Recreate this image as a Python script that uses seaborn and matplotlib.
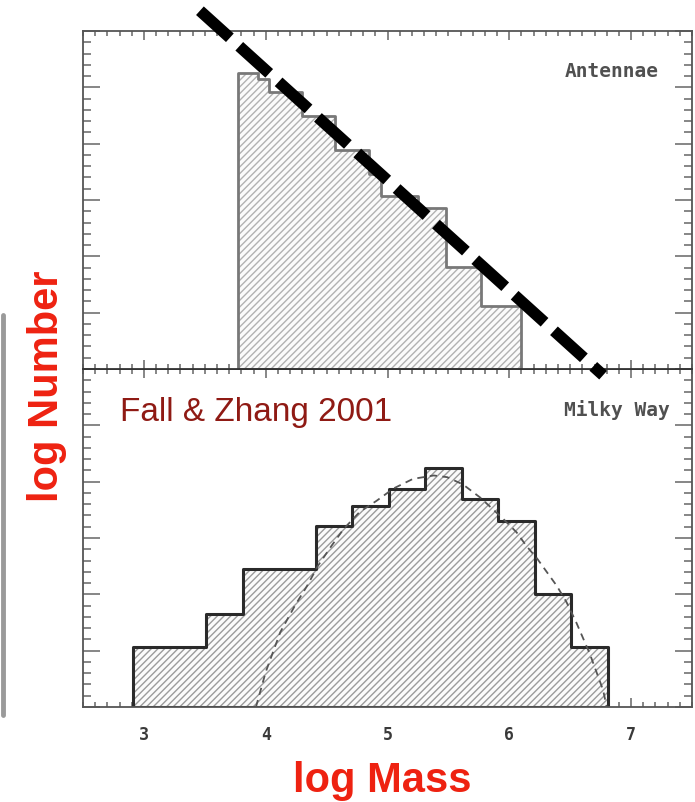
import numpy as np
import pandas as pd
import matplotlib
matplotlib.use("Agg")
import matplotlib.pyplot as plt
from matplotlib.lines import Line2D
from matplotlib.ticker import MultipleLocator, NullFormatter
import seaborn as sns

# Antennae young clusters: log number per bin (arbitrary zero point)
antennae_edges = [3.77, 3.94, 4.03, 4.30, 4.57, 4.85, 4.95, 5.25, 5.48, 5.77, 6.10]
antennae_heights = [5.25, 5.15, 4.92, 4.49, 3.89, 3.46, 3.07, 2.86, 1.81, 1.12]

# Milky Way globular clusters
milkyway_edges = [2.91, 3.21, 3.51, 3.81, 4.11, 4.41, 4.71, 5.01, 5.31,
                  5.61, 5.91, 6.21, 6.51, 6.81]
milkyway_heights = [1.06, 1.06, 1.65, 2.45, 2.45, 3.22, 3.57, 3.87, 4.24,
                    3.70, 3.31, 2.00, 1.06]

# Evolved mass-function model for the Milky Way sample
model_logm = [3.92, 4.00, 4.12, 4.24, 4.34, 4.43, 4.54, 4.64, 4.77, 4.91,
              5.05, 5.21, 5.38, 5.49, 5.62, 5.76, 5.95, 6.06, 6.14, 6.23,
              6.31, 6.39, 6.47, 6.55, 6.66, 6.77, 6.80]
model_logn = [0.00, 0.62, 1.33, 1.80, 2.15, 2.51, 2.86, 3.16, 3.46, 3.66,
              3.88, 4.05, 4.11, 4.08, 3.95, 3.72, 3.34, 3.10, 2.86, 2.63,
              2.39, 2.15, 1.86, 1.50, 0.95, 0.30, 0.00]

# Power-law guide drawn over the Antennae panel
powerlaw_logm = [3.46, 6.77]
powerlaw_logn = [6.36, -0.11]

xtick_values = [3, 4, 5, 6, 7]
xtick_labels = ["3", "4", "5", "6", "7"]

panel_names = ["Antennae", "Milky Way"]
citation = "Fall & Zhang 2001"
xlabel = "log Mass"
ylabel = "log Number"

sns.set_style("white")
plt.rcParams["font.family"] = ["DejaVu Sans"]
plt.rcParams["hatch.linewidth"] = 1.0

RED = "#ee2211"
DARKRED = "#8f1a14"


def hist_frame(edges, heights):
    edges = np.asarray(edges)
    centers = (edges[:-1] + edges[1:]) / 2
    return pd.DataFrame({"logm": centers, "logn": heights})


def hatched_hist(ax, edges, heights, hatch_color, outline_color, lw):
    df = hist_frame(edges, heights)
    # hatched body
    sns.histplot(data=df, x="logm", weights="logn", bins=edges,
                 element="step", fill=True, ax=ax, alpha=1,
                 color=hatch_color, facecolor="#fbfbfb",
                 edgecolor=hatch_color, linewidth=0, hatch="/////")
    # outline on top
    sns.histplot(data=df, x="logm", weights="logn", bins=edges,
                 element="step", fill=True, ax=ax, alpha=1,
                 color=outline_color, facecolor="none",
                 edgecolor=outline_color, linewidth=lw)


fig = plt.figure(figsize=(6.95, 8.03), dpi=100)
left, width, height = 83 / 695, 609 / 695, 338 / 803
ax_top = fig.add_axes([left, 433 / 803, width, height])
ax_bot = fig.add_axes([left, 95 / 803, width, height])
ax_top.set_zorder(3)

hatched_hist(ax_top, antennae_edges, antennae_heights,
             "#b2b2b2", "#787878", 2.0)
hatched_hist(ax_bot, milkyway_edges, milkyway_heights,
             "#9c9c9c", "#2a2a2a", 2.2)

model_df = pd.DataFrame({"logm": model_logm, "logn": model_logn})
sns.lineplot(data=model_df, x="logm", y="logn", ax=ax_bot, color="#555555",
             linewidth=1.3, dashes=False, linestyle=(0, (4, 3)), sort=False)

guide_df = pd.DataFrame({"logm": powerlaw_logm, "logn": powerlaw_logn})
sns.lineplot(data=guide_df, x="logm", y="logn", ax=ax_top, color="black",
             linewidth=8.3, sort=False, clip_on=False,
             linestyle=(0, (3.5, 1.1)), solid_capstyle="butt",
             dash_capstyle="butt", zorder=10)

for ax in (ax_top, ax_bot):
    ax.set_xlim(2.5, 7.5)
    ax.set_ylim(0, 6)
    ax.set_xlabel("")
    ax.set_ylabel("")
    ax.xaxis.set_major_locator(MultipleLocator(1))
    ax.xaxis.set_minor_locator(MultipleLocator(0.1))
    ax.yaxis.set_major_locator(MultipleLocator(1))
    ax.yaxis.set_minor_locator(MultipleLocator(0.2))
    ax.yaxis.set_major_formatter(NullFormatter())
    ax.tick_params(which="both", direction="in", top=True, right=True,
                   bottom=True, left=True, color="#666666", width=1.1)
    ax.tick_params(axis="y", which="major", length=12)
    ax.tick_params(axis="y", which="minor", length=5.5)
    ax.tick_params(axis="x", which="major", length=6.5)
    ax.tick_params(axis="x", which="minor", length=3.5)
    for side in ax.spines.values():
        side.set_visible(True)
        side.set_color("#555555")
        side.set_linewidth(1.3)

ax_top.xaxis.set_major_formatter(NullFormatter())
ax_bot.set_xticks(xtick_values)
ax_bot.set_xticklabels(xtick_labels, fontsize=12, fontweight="bold",
                       color="#3a3a3a", family="DejaVu Sans Mono")
ax_bot.tick_params(axis="x", which="major", pad=13)
ax_bot.spines["top"].set_color("#333333")
ax_top.spines["bottom"].set_color("#333333")

ax_top.text(6.84, 5.30, panel_names[0], ha="center", va="center",
            fontsize=14, fontweight="bold", color="#505050",
            family="DejaVu Sans Mono")
ax_bot.text(6.88, 5.29, panel_names[1], ha="center", va="center",
            fontsize=14, fontweight="bold", color="#505050",
            family="DejaVu Sans Mono")
ax_bot.text(2.80, 5.25, citation, ha="left", va="center", fontsize=24,
            color=DARKRED, family="Liberation Sans")

fig.text(47 / 695, 1 - 386 / 803, ylabel, rotation=90, ha="center",
         va="center", fontsize=30, fontweight="bold", color=RED,
         family="Liberation Sans")
fig.text(382 / 695, 1 - 781 / 803, xlabel, ha="center", va="center",
         fontsize=30, fontweight="bold", color=RED, family="Liberation Sans")

fig.add_artist(Line2D([0.005, 0.005], [1 - 716 / 803, 1 - 316 / 803],
                      transform=fig.transFigure, color="#9a9a9a",
                      linewidth=3.5))

fig.savefig("out.png", dpi=100)
